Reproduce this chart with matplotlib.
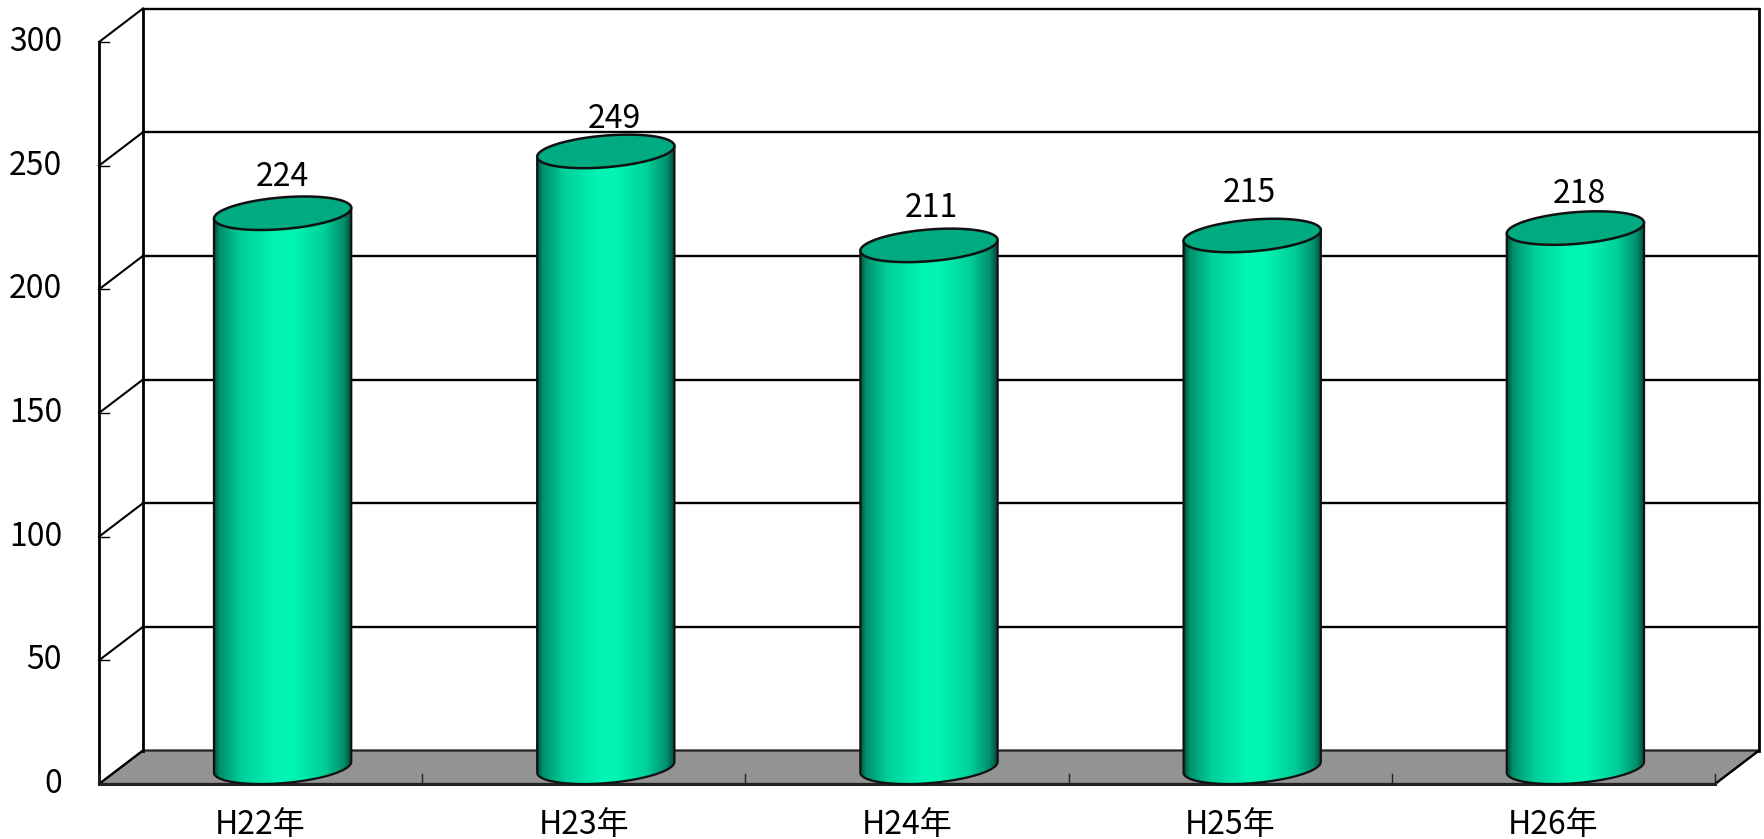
import numpy as np
import matplotlib
matplotlib.use('Agg')
import matplotlib.pyplot as plt
from matplotlib.colors import LinearSegmentedColormap
from matplotlib.patches import Polygon

plt.rcParams['font.family'] = ['Noto Sans CJK JP', 'DejaVu Sans']

# Data
years = ['H22年', 'H23年', 'H24年', 'H25年', 'H26年']
counts = [224, 249, 211, 215, 218]
y_ticks = [0, 50, 100, 150, 200, 250, 300]

# Hand placed value labels, pixels from the centre of the cylinder top
label_dx = [0, 9, 2, -3, 4]
label_dy = [36, 32.5, 37, 42.5, 34]

# Figure layout, in pixels of the 1765x839 picture
W, H = 1765, 839
x_left, x_right = 99, 1715
y_zero, y_top = 784, 42
px_per_cat = (x_right - x_left) / len(years)
px_per_val = (y_zero - y_top) / 300

# 3D look: depth of the box as an offset in data units
dep_x = 44 / px_per_cat
dep_y = 33.5 / px_per_val
half_w = 65 / px_per_cat

fig = plt.figure(figsize=(W / 100, H / 100), dpi=100)
ax = fig.add_axes([0, 0, 1, 1])
ax.axis('off')

x0, x1 = -0.5, 4.5
top_val = y_ticks[-1]
line = dict(color='black', solid_capstyle='projecting')

# Floor
ax.add_patch(Polygon([(x0, 0), (x1, 0), (x1 + dep_x, dep_y), (x0 + dep_x, dep_y)],
                     facecolor='#939393', edgecolor='#222222', linewidth=1.6, zorder=1))

# Back wall grid and side wall
for v in y_ticks[1:]:
    ax.plot([x0 + dep_x, x1 + dep_x], [v + dep_y, v + dep_y], lw=1.7, zorder=2, **line)
    ax.plot([x0, x0 + dep_x], [v, v + dep_y], lw=1.5, zorder=2, **line)
    ax.plot([x0, x0 + 10 / px_per_cat], [v, v], lw=1, color='black', zorder=2)
ax.plot([x0, x0 + dep_x], [0, dep_y], lw=1.5, zorder=2, **line)
ax.plot([x0 + dep_x, x0 + dep_x], [dep_y, top_val + dep_y], lw=2, zorder=2, **line)
ax.plot([x1 + dep_x, x1 + dep_x], [dep_y, top_val + dep_y], lw=2, zorder=2, **line)
ax.plot([x0, x0], [0, top_val], lw=2, zorder=3, **line)
ax.plot([x0, x1], [0, 0], lw=2.2, color='#222222', zorder=3)
ax.plot([x1, x1 + dep_x], [0, dep_y], lw=1.5, zorder=2, **line)
for i in range(len(years) + 1):
    ax.plot([x0 + i, x0 + i], [0, 10 / px_per_val], lw=1, color='#222222', zorder=3)

# Cylinders
body_cmap = LinearSegmentedColormap.from_list('body', [
    (0.0, '#00503c'), (0.04, '#008f6c'), (0.2, '#00d09c'), (0.45, '#00f5b4'),
    (0.58, '#00f5b4'), (0.8, '#00cf9a'), (0.94, '#00906e'), (1.0, '#004a38')])
gradient = np.linspace(0, 1, 256).reshape(1, -1)
t = np.linspace(0, 2 * np.pi, 241)
tilt = np.arctan2(dep_x / 2, half_w)
for i, (year, val) in enumerate(zip(years, counts)):
    cx = i + dep_x / 2
    ex = half_w * np.cos(t) + dep_x / 2 * np.sin(t)
    ey = dep_y / 2 * np.sin(t)
    # lower half of the bottom ellipse, between its left and right tangent points
    s = np.linspace(np.pi + tilt, 2 * np.pi + tilt, 120)
    lx = cx + half_w * np.cos(s) + dep_x / 2 * np.sin(s)
    ly = dep_y / 2 + dep_y / 2 * np.sin(s)
    body_x = np.r_[lx, lx[-1], lx[0]]
    body_y = np.r_[ly, ly[-1] + val, ly[0] + val]
    body = Polygon(np.c_[body_x, body_y], closed=True, facecolor='none',
                   edgecolor='#111111', linewidth=1.6, zorder=5)
    ax.add_patch(body)
    im = ax.imshow(gradient, cmap=body_cmap, aspect='auto', zorder=4,
                   extent=[lx[0], lx[-1], 0, val + dep_y], interpolation='bilinear')
    im.set_clip_path(body)
    ax.fill(cx + ex, val + dep_y / 2 + ey, facecolor='#00ab82', edgecolor='#111111',
            linewidth=1.8, zorder=6)
    ax.text(cx + label_dx[i] / px_per_cat, val + dep_y / 2 + label_dy[i] / px_per_val,
            str(val), fontsize=23, ha='center', va='center', zorder=7)
    ax.text(i, -(41 / px_per_val), year, fontsize=23, ha='center', va='center')

ax.set_xlim(-0.5 - x_left / px_per_cat, 4.5 + (W - x_right) / px_per_cat)
ax.set_ylim(-(H - y_zero) / px_per_val, y_zero / px_per_val)

# Value axis labels
for v in y_ticks:
    ax.text(x0 - 37 / px_per_cat, v, str(v), fontsize=23, ha='right', va='center')

fig.savefig('out.png', dpi=100)
